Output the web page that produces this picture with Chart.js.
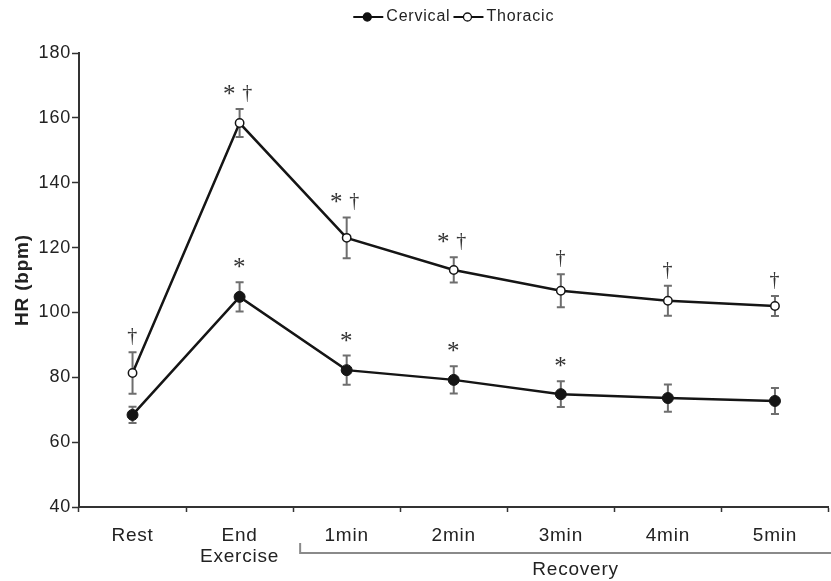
<!DOCTYPE html>
<html>
<head>
<meta charset="utf-8">
<script src="https://cdn.jsdelivr.net/npm/chart.js@4.4.1/dist/chart.umd.min.js"></script>
<style>
  html, body { margin: 0; padding: 0; background: #fff; overflow: hidden; }
  canvas { display: block; }
</style>
</head>
<body>
<canvas id="hrChart" width="835" height="581"></canvas>
<script>
// heart rate, mean and error, per time point
var timeLabels = ['Rest', ['End', 'Exercise'], '1min', '2min', '3min', '4min', '5min'];
var cervicalHR = [68.4, 104.8, 82.2, 79.2, 74.8, 73.6, 72.7];
var cervicalErr = [2.5, 4.5, 4.5, 4.2, 4.0, 4.2, 4.0];
var thoracicHR = [81.3, 158.4, 123.0, 113.1, 106.7, 103.6, 102.0];
var thoracicErr = [6.4, 4.3, 6.3, 3.9, 5.1, 4.6, 3.1];
// significance marks drawn above the error bars
var cervicalSig = ['', '*', '*', '*', '*', '', ''];
var thoracicSig = ['†', '*†', '*†', '*†', '†', '†', '†'];
var yMin = 40, yMax = 180, yStep = 20;

var textFont = '"Liberation Sans", Arial, sans-serif';

// widen all canvas text a little
var wideText = {
    id: 'wideText',
    beforeUpdate: function (chart) { chart.ctx.letterSpacing = '0.8px'; },
    beforeDraw: function (chart) { chart.ctx.letterSpacing = '0.8px'; }
};

var errorBars = {
    id: 'errorBars',
    beforeDatasetsDraw: function (chart) {
        var ctx = chart.ctx, xs = chart.scales.x, ys = chart.scales.y;
        ctx.save();
        ctx.strokeStyle = '#6e6e6e';
        ctx.lineWidth = 2;
        [[cervicalHR, cervicalErr], [thoracicHR, thoracicErr]].forEach(function (s) {
            s[0].forEach(function (v, i) {
                var px = xs.getPixelForValue(i);
                var top = ys.getPixelForValue(v + s[1][i]);
                var bot = ys.getPixelForValue(v - s[1][i]);
                ctx.beginPath();
                ctx.moveTo(px, top); ctx.lineTo(px, bot);
                ctx.moveTo(px - 4, top); ctx.lineTo(px + 4, top);
                ctx.moveTo(px - 4, bot); ctx.lineTo(px + 4, bot);
                ctx.stroke();
            });
        });
        ctx.restore();
    }
};

function drawLegendItem(ctx, x, y, filled, text) {
    ctx.strokeStyle = '#111';
    ctx.lineWidth = 2;
    ctx.beginPath(); ctx.moveTo(x, y); ctx.lineTo(x + 30, y); ctx.stroke();
    ctx.beginPath(); ctx.arc(x + 14, y, 4, 0, Math.PI * 2);
    ctx.fillStyle = filled ? '#111' : '#fff';
    ctx.fill();
    ctx.lineWidth = 1.3;
    ctx.stroke();
    ctx.fillStyle = '#222';
    ctx.fillText(text, x + 33, y);
    return x + 33 + ctx.measureText(text).width + 3;
}

var extras = {
    id: 'extras',
    afterDraw: function (chart) {
        var ctx = chart.ctx, xs = chart.scales.x, ys = chart.scales.y;
        var area = chart.chartArea;
        ctx.save();

        // significance marks
        ctx.fillStyle = '#333';
        ctx.textAlign = 'center';
        ctx.textBaseline = 'alphabetic';
        var serif = ' "Liberation Serif", "Times New Roman", serif';
        function mark(ch, x, y) {
            ctx.font = (ch === '*' ? '25px' : '20px') + serif;
            ctx.fillText(ch, x, ch === '*' ? y + 3 : y);
        }
        [[cervicalHR, cervicalErr, cervicalSig], [thoracicHR, thoracicErr, thoracicSig]].forEach(function (s) {
            s[2].forEach(function (m, i) {
                if (!m) return;
                var px = xs.getPixelForValue(i);
                var py = ys.getPixelForValue(s[0][i] + s[1][i]) - 10;
                if (m.length === 2) {
                    mark(m[0], px - 10, py);
                    mark(m[1], px + 8, py);
                } else {
                    mark(m, px, py);
                }
            });
        });

        // Recovery bracket under the axis
        var bx = (xs.getPixelForValue(1) + xs.getPixelForValue(2)) / 2 + 7;
        ctx.strokeStyle = '#8a8a8a';
        ctx.lineWidth = 2;
        ctx.beginPath();
        ctx.moveTo(bx, xs.top + 36);
        ctx.lineTo(bx, xs.top + 46);
        ctx.lineTo(chart.width, xs.top + 46);
        ctx.stroke();
        ctx.font = '19px ' + textFont;
        ctx.fillStyle = '#222';
        ctx.fillText('Recovery', (bx + chart.width) / 2 + 8, xs.top + 68);

        // legend
        ctx.font = '16px ' + textFont;
        ctx.textAlign = 'left';
        ctx.textBaseline = 'middle';
        var w = 33 + ctx.measureText('Cervical').width + 3 + 33 + ctx.measureText('Thoracic').width;
        var lx = (area.left + area.right) / 2 - w / 2;
        lx = drawLegendItem(ctx, lx, 17, true, 'Cervical');
        drawLegendItem(ctx, lx, 17, false, 'Thoracic');
        ctx.restore();
    }
};

var ctxHR = document.getElementById('hrChart').getContext('2d');
new Chart(ctxHR, {
    type: 'line',
    data: {
        labels: timeLabels,
        datasets: [{
            label: 'Cervical',
            data: cervicalHR,
            borderColor: '#151515',
            borderWidth: 2.5,
            pointRadius: 5.5,
            pointBackgroundColor: '#151515',
            pointBorderColor: '#151515',
            pointBorderWidth: 1,
            tension: 0
        }, {
            label: 'Thoracic',
            data: thoracicHR,
            borderColor: '#151515',
            borderWidth: 2.5,
            pointRadius: 4.2,
            pointBackgroundColor: '#fff',
            pointBorderColor: '#151515',
            pointBorderWidth: 1.5,
            tension: 0
        }]
    },
    options: {
        responsive: false,
        animation: false,
        layout: { padding: { top: 53, left: 0, right: 0, bottom: 0 } },
        plugins: { legend: { display: false }, tooltip: { enabled: false } },
        scales: {
            x: {
                type: 'category',
                offset: true,
                grid: { offset: true, drawOnChartArea: false, tickLength: 5, tickColor: '#333', tickWidth: 1.5 },
                border: { color: '#333', width: 2 },
                ticks: {
                    autoSkip: false,
                    maxRotation: 0,
                    padding: 13,
                    color: '#222',
                    font: { family: textFont, size: 19, lineHeight: 1.1 }
                },
                afterFit: function (scale) { scale.height = 74; }
            },
            y: {
                min: yMin,
                max: yMax,
                grid: { drawOnChartArea: false, tickLength: 7, tickColor: '#333', tickWidth: 1.5 },
                border: { color: '#333', width: 2 },
                ticks: {
                    stepSize: yStep,
                    padding: 1,
                    color: '#222',
                    font: { family: textFont, size: 18 }
                },
                title: {
                    display: true,
                    text: 'HR (bpm)',
                    color: '#222',
                    padding: { top: 11, bottom: 0 },
                    font: { family: textFont, size: 19, weight: 'bold' }
                },
                afterFit: function (scale) { scale.width = 79; }
            }
        }
    },
    plugins: [wideText, errorBars, extras]
});
</script>
</body>
</html>
